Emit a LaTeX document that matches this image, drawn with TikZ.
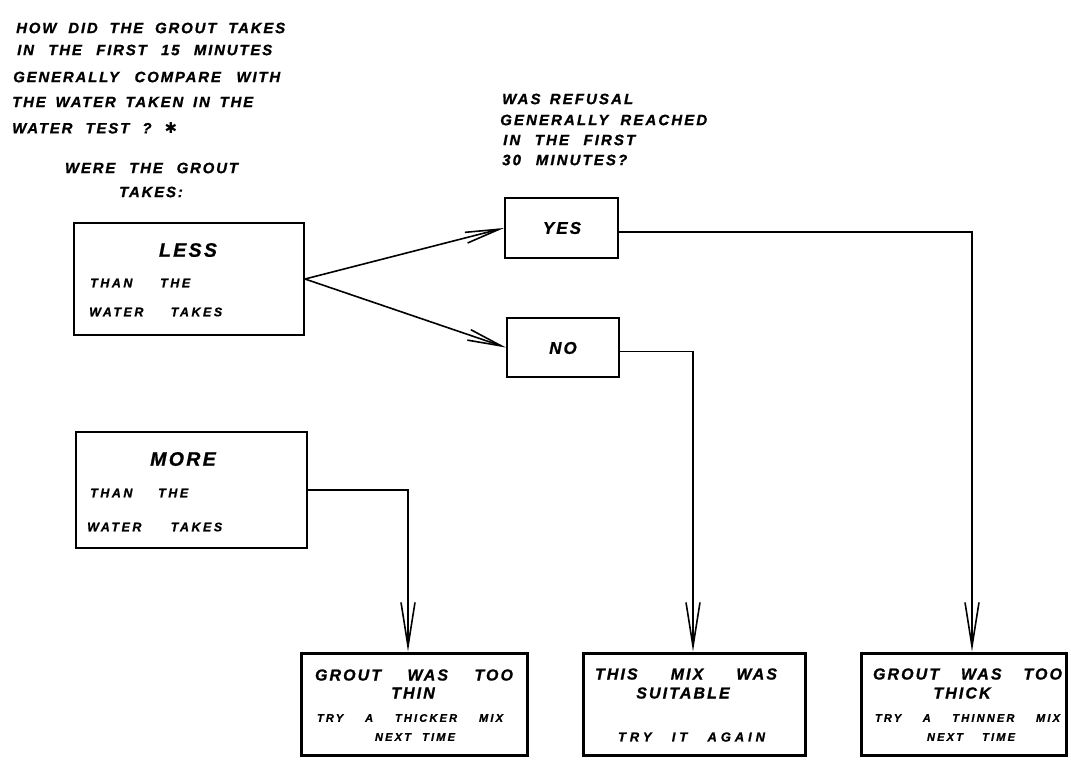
\documentclass[tikz,border=0pt]{standalone}
\usepackage{fontspec}
\setmainfont{Liberation Sans}
\newfontfamily\fQ[LetterSpace=12,FakeBold=1]{Liberation Sans Bold Italic}
\newfontfamily\fR[LetterSpace=14,FakeBold=1]{Liberation Sans Bold Italic}
\newfontfamily\fS[LetterSpace=20,FakeBold=1]{Liberation Sans Bold Italic}
\newfontfamily\fB[LetterSpace=13,FakeBold=1]{Liberation Sans Bold Italic}
\newfontfamily\fC[LetterSpace=20,FakeBold=1]{Liberation Sans Bold Italic}
\newfontfamily\fD[LetterSpace=30,FakeBold=1]{Liberation Sans Bold Italic}
\newfontfamily\sym{DejaVu Sans Bold}
\usetikzlibrary{arrows.meta}
\newcommand{\fillw}[2]{\makebox[#1pt][s]{#2}}
\tikzset{
  box/.style={draw, line width=2pt, rectangle, inner sep=0pt},
  endbox/.style={draw, line width=3pt, rectangle, inner sep=0pt},
  txt/.style={inner sep=0pt, font=\fQ\fontsize{15}{17}\selectfont},
  qtxt/.style={inner sep=0pt, anchor=west, font=\fR\fontsize{15}{17}\selectfont},
  big/.style={inner sep=0pt, font=\fQ\fontsize{19.5}{21}\selectfont},
  ynt/.style={inner sep=0pt, font=\fQ\fontsize{17}{19}\selectfont},
  small/.style={inner sep=0pt, anchor=west, font=\fS\fontsize{12.5}{14}\selectfont},
  btitle/.style={inner sep=0pt, font=\fB\fontsize{16}{18}\selectfont},
  bsub/.style={inner sep=0pt, font=\fC\fontsize{11}{13}\selectfont},
  bsubw/.style={inner sep=0pt, font=\fD\fontsize{13}{15}\selectfont},
  conn/.style={line width=1.6pt},
  arr/.style={conn, -{Straight Barb[length=44pt,width=14pt,line width=1.6pt]}},
  darr/.style={conn, -{Straight Barb[length=34pt,width=11pt,line width=1.6pt]}},
}
\begin{document}
\begin{tikzpicture}[x=1pt,y=-1pt]
\useasboundingbox (0,0) rectangle (1071,763);
% heading text
\node[txt, anchor=west] (h1) at (16,28) {\fillw{269}{HOW DID THE GROUT TAKES}};
\node[txt, anchor=west] (h2) at (17,50) {\fillw{255}{IN THE FIRST 15 MINUTES}};
\node[txt, anchor=west] (h3) at (13,77) {\fillw{267}{GENERALLY COMPARE WITH}};
\node[txt, anchor=west] (h4) at (12,102) {\fillw{241}{THE WATER TAKEN IN THE}};
\node[txt, anchor=west] (h5) at (12,128) {\fillw{165}{WATER TEST ? {\sym\fontsize{15}{17}\selectfont ✱}}};
\node[txt] (h6) at (151.5,168) {\fillw{173}{WERE THE GROUT}};
\node[txt] (h7) at (151,192) {TAKES:};
% question
\node[qtxt] (q1) at (502,99) {\fillw{131}{WAS REFUSAL}};
\node[qtxt] (q2) at (500,120) {\fillw{207}{GENERALLY REACHED}};
\node[qtxt] (q3) at (503,140) {\fillw{132}{IN THE FIRST}};
\node[qtxt] (q4) at (502,160) {\fillw{125}{30 MINUTES?}};
% boxes
\node[box, minimum width=230pt, minimum height=112pt] (less) at (189,279) {};
\node[big] (lessT) at (188,250) {LESS};
\node[small] (less1) at (90,283) {\fillw{100}{THAN THE}};
\node[small] (less2) at (89,312) {\fillw{133}{WATER TAKES}};
\node[box, minimum width=231pt, minimum height=116pt] (more) at (191.5,490) {};
\node[big] (moreT) at (183,459) {MORE};
\node[small] (more1) at (90,493) {\fillw{98}{THAN THE}};
\node[small] (more2) at (87,527) {\fillw{135}{WATER TAKES}};
\node[box, minimum width=113pt, minimum height=60pt] (yes) at (561.5,228) {};
\node[ynt] (yesT) at (562,228) {YES};
\node[box, minimum width=112pt, minimum height=59pt] (no) at (563,347.5) {};
\node[ynt] (noT) at (563,348) {NO};
% end boxes
\node[endbox, minimum width=226pt, minimum height=102pt] (b1) at (414,704) {};
\node[btitle] (b1a) at (414,675) {\fillw{198}{GROUT WAS TOO}};
\node[btitle] (b1b) at (413,693) {THIN};
\node[bsub] (b1c) at (410,718) {\fillw{186}{TRY A THICKER MIX}};
\node[bsub] (b1d) at (415,737) {\fillw{80}{NEXT TIME}};
\node[endbox, minimum width=222pt, minimum height=102pt] (b2) at (694,704) {};
\node[btitle] (b2a) at (686,674) {\fillw{182}{THIS MIX WAS}};
\node[btitle] (b2b) at (683,693) {SUITABLE};
\node[bsubw] (b2c) at (691.5,737) {\fillw{147}{TRY IT AGAIN}};
\node[endbox, minimum width=205pt, minimum height=102pt] (b3) at (963.5,704) {};
\node[btitle] (b3a) at (967.5,674) {\fillw{189}{GROUT WAS TOO}};
\node[btitle] (b3b) at (962,693) {THICK};
\node[bsub] (b3c) at (967.5,718) {\fillw{185}{TRY A THINNER MIX}};
\node[bsub] (b3d) at (971,737) {\fillw{88}{NEXT TIME}};
% connectors
\draw[darr] (less.east) -- (yes.west);
\draw[darr] (less.east) -- (no.west);
\draw[arr] ([yshift=-4pt]yes.east) -| ([xshift=8.5pt]b3.north);
\draw[arr] ([yshift=-4pt]no.east) -| ([xshift=-1pt]b2.north);
\draw[arr] (more.east) -| ([xshift=-6pt]b1.north);
\end{tikzpicture}
\end{document}
